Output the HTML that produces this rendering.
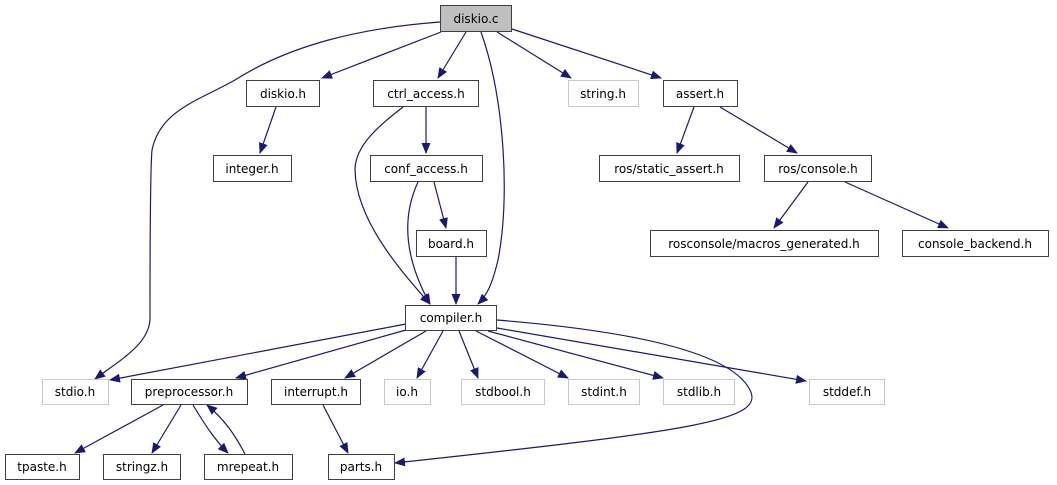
<!DOCTYPE html>
<html><head><meta charset="utf-8"><style>html,body{margin:0;padding:0;background:#fff}svg{display:block}</style></head><body>
<svg width="1057" height="485" viewBox="0 0 1057 485" xmlns="http://www.w3.org/2000/svg" font-family="DejaVu Sans, Liberation Sans, sans-serif" font-size="12">
<defs><marker id="a" markerWidth="11" markerHeight="9" refX="10" refY="4.5" orient="auto" markerUnits="userSpaceOnUse"><path d="M0,0 L11,4.5 L0,9 Z" fill="#191970"/></marker></defs>
<g fill="none" stroke="#191970" stroke-width="1.2" marker-end="url(#a)">
<path d="M440,22 C360,28 290,45 235,80 C200,100 160,110 152,150 C150,170 150,280 150,320 C148,345 120,360 95,379"/>
<path d="M441,32 L322,78"/>
<path d="M466,32 L438,78"/>
<path d="M481,32 C505,100 510,200 498,260 C492,285 487,295 478,304"/>
<path d="M497,32 L571,78"/>
<path d="M512,29 L661,78"/>
<path d="M276,107 L260,153"/>
<path d="M426,107 L426,153"/>
<path d="M403,107 C380,125 355,145 355,170 C356,220 400,270 430,304"/>
<path d="M418,182 C405,210 400,250 430,304"/>
<path d="M434,182 L446,228"/>
<path d="M456,257 L456,304"/>
<path d="M694,107 L677,153"/>
<path d="M720,107 L797,153"/>
<path d="M808,182 L774,228"/>
<path d="M845,182 L948,228"/>
<path d="M406,324 L110,380"/>
<path d="M406,330 L236,378"/>
<path d="M426,331 L345,378"/>
<path d="M443,331 L417,378"/>
<path d="M459,331 L478,378"/>
<path d="M476,331 L568,378"/>
<path d="M488,331 L663,378"/>
<path d="M497,328 L806,381"/>
<path d="M497,320 C620,330 730,350 750,390 C765,420 700,430 395,463"/>
<path d="M163,405 L75,453"/>
<path d="M181,405 L152,453"/>
<path d="M193,405 C205,425 215,440 228,453"/>
<path d="M245,454 C235,435 225,420 207,405"/>
<path d="M323,405 L348,453"/>
</g>
<g stroke-width="1">
<rect x="440.5" y="5.5" width="71" height="26" fill="#bfbfbf" stroke="#404040"/>
<g fill="#fff" stroke="#404040">
<rect x="246.5" y="80.5" width="73" height="26"/>
<rect x="373.5" y="80.5" width="105" height="26"/>
<rect x="663.5" y="80.5" width="74" height="26"/>
<rect x="213.5" y="155.5" width="78" height="26"/>
<rect x="370.5" y="155.5" width="112" height="26"/>
<rect x="599.5" y="155.5" width="140" height="26"/>
<rect x="764.5" y="155.5" width="107" height="26"/>
<rect x="416.5" y="230.5" width="70" height="26"/>
<rect x="650.5" y="230.5" width="228" height="26"/>
<rect x="902.5" y="230.5" width="146" height="26"/>
<rect x="405.5" y="305.5" width="91" height="25"/>
<rect x="131.5" y="379.5" width="116" height="25"/>
<rect x="271.5" y="379.5" width="89" height="25"/>
<rect x="5.5" y="454.5" width="74" height="25"/>
<rect x="103.5" y="454.5" width="77" height="25"/>
<rect x="204.5" y="454.5" width="88" height="25"/>
<rect x="328.5" y="454.5" width="66" height="25"/>
</g>
<g fill="#fff" stroke="#c8c8c8">
<rect x="568.5" y="80.5" width="70" height="26"/>
<rect x="42.5" y="379.5" width="66" height="25"/>
<rect x="384.5" y="379.5" width="46" height="25"/>
<rect x="461.5" y="379.5" width="83" height="25"/>
<rect x="568.5" y="379.5" width="71" height="25"/>
<rect x="663.5" y="379.5" width="71" height="25"/>
<rect x="809.5" y="379.5" width="75" height="25"/>
</g>
</g>
<g fill="#000" text-anchor="middle">
<text x="476" y="23">diskio.c</text>
<text x="283" y="98">diskio.h</text>
<text x="426" y="98">ctrl_access.h</text>
<text x="603" y="98">string.h</text>
<text x="700" y="98">assert.h</text>
<text x="252" y="173">integer.h</text>
<text x="426" y="173">conf_access.h</text>
<text x="669" y="173">ros/static_assert.h</text>
<text x="818" y="173">ros/console.h</text>
<text x="451" y="248">board.h</text>
<text x="764" y="248">rosconsole/macros_generated.h</text>
<text x="975" y="248">console_backend.h</text>
<text x="451" y="322">compiler.h</text>
<text x="75" y="396">stdio.h</text>
<text x="189" y="396">preprocessor.h</text>
<text x="316" y="396">interrupt.h</text>
<text x="407" y="396">io.h</text>
<text x="503" y="396">stdbool.h</text>
<text x="604" y="396">stdint.h</text>
<text x="699" y="396">stdlib.h</text>
<text x="847" y="396">stddef.h</text>
<text x="42" y="471">tpaste.h</text>
<text x="142" y="471">stringz.h</text>
<text x="248" y="471">mrepeat.h</text>
<text x="361" y="471">parts.h</text>
</g>
</svg>
</body></html>
